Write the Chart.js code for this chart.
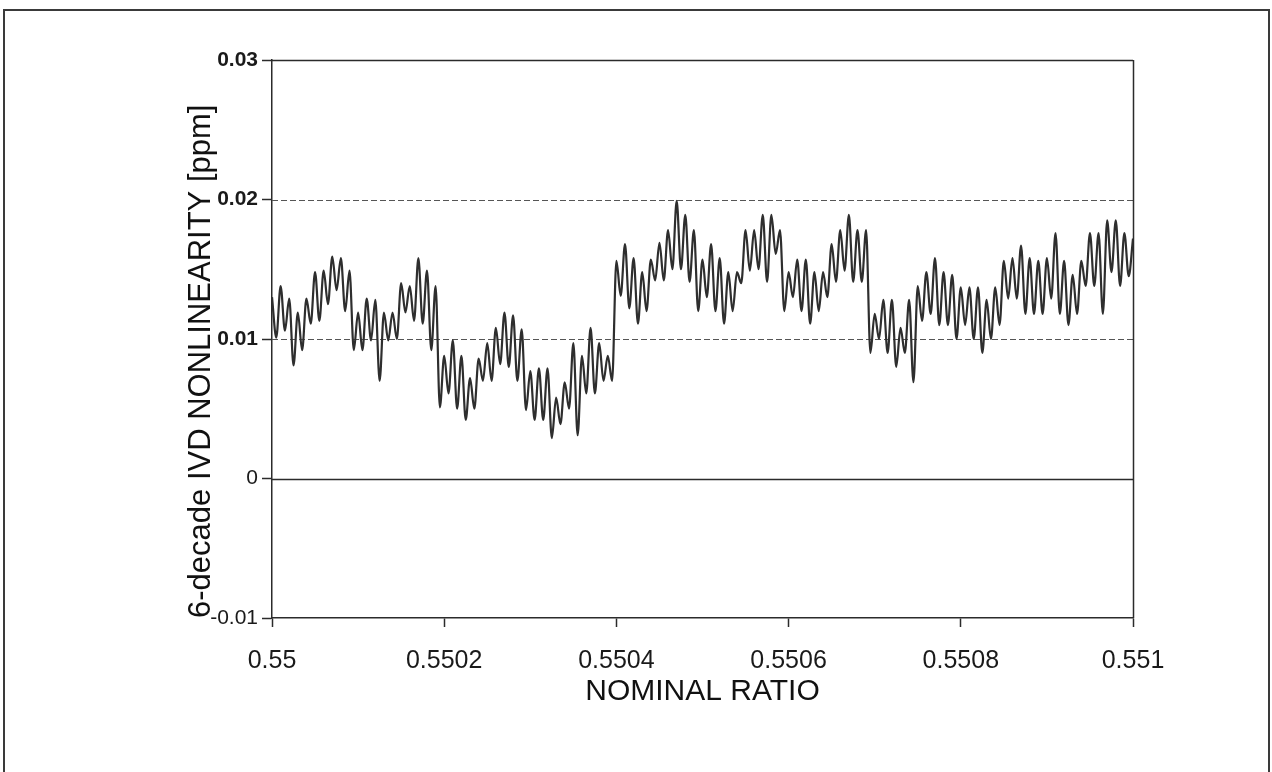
<!DOCTYPE html>
<html>
<head>
<meta charset="utf-8">
<script src="https://cdn.jsdelivr.net/npm/chart.js@4.4.1/dist/chart.umd.min.js"></script>
<style>
  html, body { margin: 0; padding: 0; background: #fff; }
  #wrap { position: relative; width: 1272px; height: 772px; overflow: hidden; background: #fff; }
  #frame { position: absolute; left: 3px; top: 9px; width: 1263px; height: 800px; border: 2px solid #3a3a3a; }
  canvas { position: absolute; left: 0; top: 0; }
</style>
</head>
<body>
<div id="wrap">
  <div id="frame"></div>
  <canvas id="c" width="1272" height="772"></canvas>
</div>
<script>
/* sample grid along the nominal ratio axis */
const xStart = 0.55;
const xStep = 0.000005;

const partA = [0.0130, 0.0101, 0.0138, 0.0106, 0.0129, 0.0081, 0.0119, 0.0092, 0.0129, 0.0111,
  0.0148, 0.0113, 0.0149, 0.0125, 0.0159, 0.0135, 0.0158, 0.0120, 0.0149, 0.0092,
  0.0119, 0.0092, 0.0129, 0.0099, 0.0128, 0.0070, 0.0119, 0.0099, 0.0119, 0.0100,
  0.0140, 0.0119, 0.0138, 0.0113, 0.0158, 0.0111, 0.0149, 0.0092, 0.0138];
const partB = [0.0051, 0.0088, 0.0061, 0.0099, 0.0050, 0.0088, 0.0042, 0.0072, 0.0050, 0.0086,
  0.0070, 0.0097, 0.0070, 0.0108, 0.0082, 0.0119, 0.0080, 0.0117, 0.0070, 0.0107,
  0.0049, 0.0077, 0.0042, 0.0079, 0.0042, 0.0079, 0.0029, 0.0058, 0.0039, 0.0069,
  0.0050, 0.0097, 0.0031, 0.0088, 0.0061, 0.0108, 0.0061, 0.0097, 0.0070, 0.0088, 0.0070];
const partC = [0.0156, 0.0131, 0.0168, 0.0122, 0.0158, 0.0111, 0.0148, 0.0120, 0.0157, 0.0142,
  0.0169, 0.0142, 0.0178, 0.0150, 0.0199, 0.0150, 0.0189, 0.0141, 0.0178, 0.0120,
  0.0157, 0.0130, 0.0168, 0.0120, 0.0158, 0.0111, 0.0148, 0.0120, 0.0148, 0.0140,
  0.0178, 0.0149, 0.0178, 0.0150, 0.0189, 0.0141, 0.0189, 0.0161, 0.0178, 0.0120,
  0.0148, 0.0130, 0.0157, 0.0120, 0.0157, 0.0111, 0.0148, 0.0120, 0.0148, 0.0130,
  0.0168, 0.0141, 0.0178, 0.0149, 0.0189, 0.0141, 0.0178, 0.0141, 0.0178];
const partD = [0.0090, 0.0118, 0.0100, 0.0128, 0.0090, 0.0128, 0.0080, 0.0108, 0.0090, 0.0128,
  0.0069, 0.0138, 0.0113, 0.0148, 0.0118, 0.0158, 0.0110, 0.0148, 0.0110, 0.0146,
  0.0100, 0.0137, 0.0110, 0.0137, 0.0100, 0.0137, 0.0090, 0.0128, 0.0100, 0.0137,
  0.0110, 0.0156, 0.0129, 0.0158, 0.0129, 0.0167, 0.0118, 0.0158, 0.0118, 0.0156,
  0.0118, 0.0158, 0.0129, 0.0176, 0.0118, 0.0156, 0.0110, 0.0146, 0.0118, 0.0156,
  0.0138, 0.0176, 0.0138, 0.0176, 0.0118, 0.0185, 0.0148, 0.0185, 0.0138, 0.0176,
  0.0145, 0.0172];

const xTicks = [0.55, 0.5502, 0.5504, 0.5506, 0.5508, 0.551];
const yTicks = [-0.01, 0, 0.01, 0.02, 0.03];
const dashedAt = [0.01, 0.02];
const solidAt = [0, 0.03];

const values = partA.concat(partB, partC, partD);
const points = values.map((v, i) => ({ x: xStart + i * xStep, y: v }));

const FONT = "'Liberation Sans', Arial, sans-serif";
const INK = '#2b2b2b';

// grid lines + top/right frame of the plot box
const boxLines = {
  id: 'boxLines',
  beforeDatasetsDraw(chart) {
    const { ctx, chartArea: a, scales: { x, y } } = chart;
    ctx.save();
    ctx.strokeStyle = '#555';
    ctx.lineWidth = 1;
    ctx.setLineDash([6, 3]);
    dashedAt.forEach(v => {
      const py = Math.round(y.getPixelForValue(v)) + 0.5;
      ctx.beginPath(); ctx.moveTo(a.left, py); ctx.lineTo(a.right, py); ctx.stroke();
    });
    ctx.setLineDash([]);
    ctx.strokeStyle = INK;
    ctx.lineWidth = 1.5;
    solidAt.forEach(v => {
      const py = Math.round(y.getPixelForValue(v)) + 0.5;
      ctx.beginPath(); ctx.moveTo(a.left, py); ctx.lineTo(a.right, py); ctx.stroke();
    });
    const px = Math.round(x.getPixelForValue(xTicks[xTicks.length - 1])) + 0.5;
    ctx.beginPath(); ctx.moveTo(px, a.top); ctx.lineTo(px, a.bottom); ctx.stroke();
    ctx.restore();
  }
};

new Chart(document.getElementById('c'), {
  type: 'line',
  data: {
    datasets: [{
      data: points,
      borderColor: '#2e2e2e',
      borderWidth: 2.2,
      pointRadius: 0,
      cubicInterpolationMode: 'monotone',
      fill: false
    }]
  },
  options: {
    responsive: false,
    animation: false,
    devicePixelRatio: 1,
    layout: { padding: { left: 179, top: 60, right: 139, bottom: 58 } },
    plugins: { legend: { display: false }, tooltip: { enabled: false } },
    scales: {
      x: {
        type: 'linear',
        min: 0.55, max: 0.551,
        afterFit: s => { s.height = 96; },
        afterBuildTicks: s => { s.ticks = xTicks.map(v => ({ value: v })); },
        grid: { drawOnChartArea: false, drawTicks: true, tickLength: 9, tickColor: INK, tickWidth: 1.5 },
        border: { color: INK, width: 1.5 },
        ticks: {
          autoSkip: false, maxRotation: 0, padding: 19, color: '#1a1a1a',
          font: { family: FONT, size: 25 },
          callback: v => String(+v.toFixed(4))
        },
        title: { display: true, text: 'NOMINAL RATIO', color: '#111', font: { family: FONT, size: 30 }, padding: { top: 0, bottom: 4 } }
      },
      y: {
        type: 'linear',
        min: -0.01, max: 0.03,
        afterFit: s => { s.width = 93; },
        afterBuildTicks: s => { s.ticks = yTicks.map(v => ({ value: v })); },
        grid: { drawOnChartArea: false, drawTicks: true, tickLength: 10, tickColor: INK, tickWidth: 1.5 },
        border: { color: INK, width: 1.5 },
        ticks: {
          padding: 4, color: '#1a1a1a',
          font: ctx => ({ family: FONT, size: 21, weight: ctx.tick && ctx.tick.value > 0 ? 'bold' : 'normal' }),
          callback: v => String(+v.toFixed(2))
        },
        title: {
          display: true, align: 'start', text: '6-decade IVD NONLINEARITY [ppm]', color: '#111',
          font: { family: FONT, size: 31 }, padding: { top: 4, bottom: 0 }
        }
      }
    }
  },
  plugins: [boxLines]
});
</script>
</body>
</html>
